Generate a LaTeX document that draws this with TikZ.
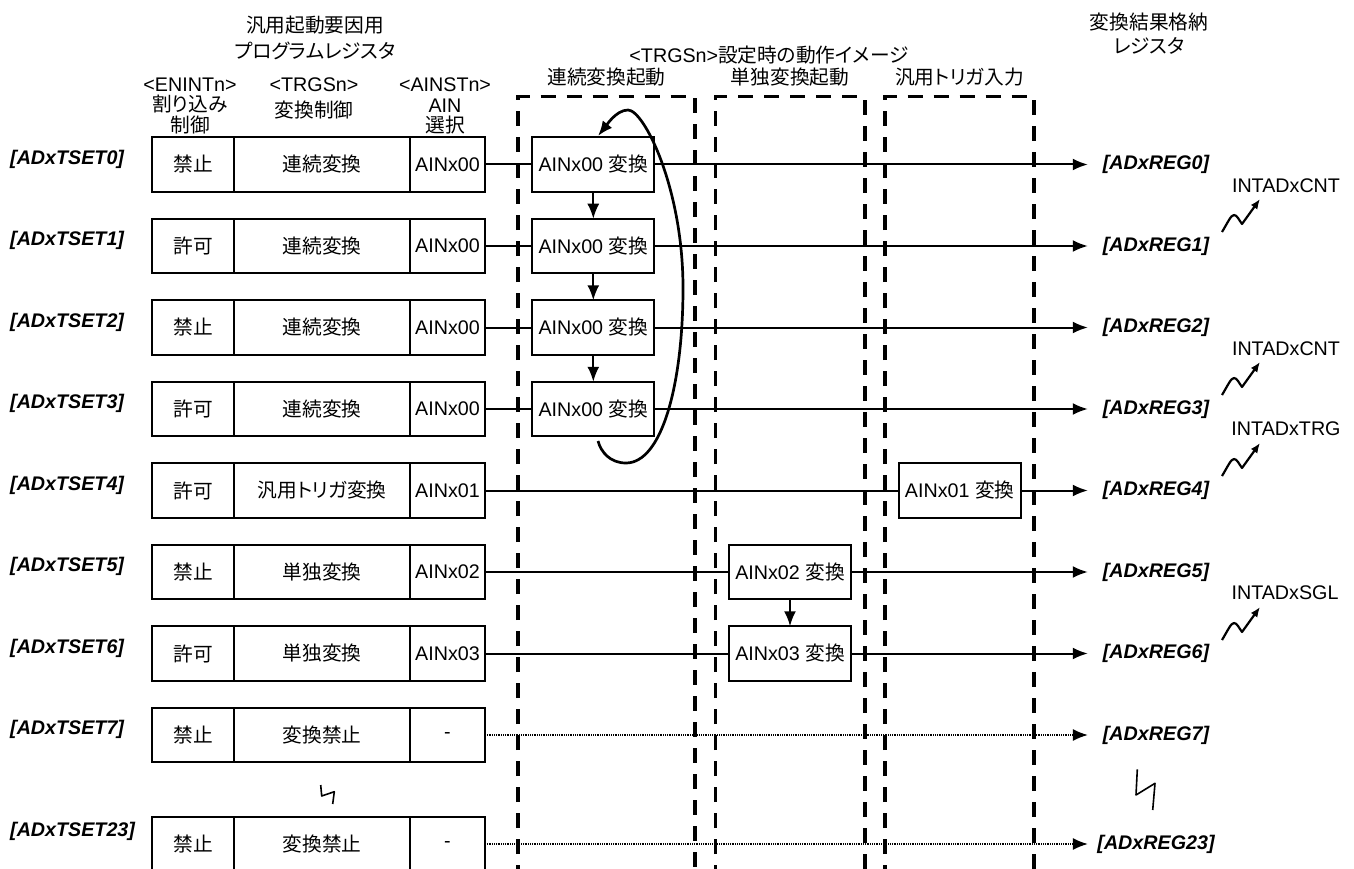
\documentclass[tikz,border=0pt]{standalone}
\usepackage{fontspec}
\setmainfont{Liberation Sans}
\newfontfamily\jp[RawFeature=+palt]{Noto Sans CJK JP}
\usetikzlibrary{arrows.meta,positioning}
\tikzset{
  >={Latex[length=15pt,width=12pt]},
  reg/.style={draw, line width=2pt, minimum height=54.5pt, inner sep=0pt, outer sep=0pt},
  ena/.style={reg, minimum width=82pt},
  trgs/.style={reg, minimum width=176pt},
  ains/.style={reg, minimum width=75pt},
  conv/.style={draw, line width=1.7pt, minimum width=122pt, minimum height=54.5pt, inner sep=0pt, outer sep=0pt, fill=white},
  sig/.style={line width=2pt},
  dotsig/.style={line width=1.3pt, dash pattern=on 1pt off 0.8pt},
  dashbox/.style={line width=3.3pt, dash pattern=on 15pt off 11pt},
  tset/.style={anchor=west, inner sep=0pt, font=\bfseries\itshape},
  result/.style={minimum width=136pt, inner sep=0pt, font=\bfseries\itshape},
  squig/.style={line width=2.2pt, line join=round, -{Latex[length=10pt,width=8pt]}},
  brk/.style={line width=1.6pt, line join=round}
}

\begin{document}
\fontsize{19.7}{20}\selectfont
\begin{tikzpicture}[x=1pt,y=-1pt]
	\useasboundingbox (0,0) rectangle (1354,869);
	% headers
	\node (hprog) at (315,37.5) [align=center, font=\jp\fontsize{19.7}{26}\selectfont] {汎用起動要因用\\プログラムレジスタ};
	\node (hena) at (190,106) [align=center, font=\fontsize{19.7}{20.5}\selectfont] {<ENINTn>\\{\jp 割り込み}\\{\jp 制御}};
	\node (htrg) at (314,98) [align=center, font=\fontsize{19.7}{26}\selectfont] {<TRGSn>\\{\jp 変換制御}};
	\node (hain) at (445,106) [align=center, font=\fontsize{19.7}{20.5}\selectfont] {<AINSTn>\\AIN\\{\jp 選択}};
	\node (himg) at (769,55) {<TRGSn>{\jp 設定時の動作イメージ}};
	\node (hcont) at (606.5,77) {\jp 連続変換起動};
	\node (hsgl) at (790,77) {\jp 単独変換起動};
	\node (hgen) at (959.5,77) {\jp 汎用トリガ入力};
	\node (hres) at (1149,33.5) [align=center, font=\jp\fontsize{19.7}{23.5}\selectfont] {変換結果格納\\レジスタ};
	% dashed frames
	\draw[dashbox] (518,880) -- (518,96.7) -- (695,96.7) -- (695,880);
	\draw[dashbox] (715.7,880) -- (715.7,96.7) -- (865,96.7) -- (865,880);
	\draw[dashbox] (885,880) -- (885,96.7) -- (1034,96.7) -- (1034,880);
	% row 0
	\node (l0) at (10,159) [tset] {[ADxTSET0]};
	\node (e0) at (193,164.5) [ena] {\jp 禁止};
	\node (t0) [trgs, right=0pt of e0] {\jp 連続変換};
	\node (a0) [ains, right=0pt of t0] {AINx00};
	\node (c0) at (593.3,164.5) [conv] {AINx00 {\jp 変換}};
	\node (r0) at (1156,164.5) [result] {[ADxREG0]};
	\draw[sig] (a0) -- (c0);
	\draw[sig, arrows=->] (c0) -- (r0);
	% row 1
	\node (l1) at (10,240.5) [tset] {[ADxTSET1]};
	\node (e1) at (193,246) [ena] {\jp 許可};
	\node (t1) [trgs, right=0pt of e1] {\jp 連続変換};
	\node (a1) [ains, right=0pt of t1] {AINx00};
	\node (c1) at (593.3,246) [conv] {AINx00 {\jp 変換}};
	\node (r1) at (1156,246) [result] {[ADxREG1]};
	\draw[sig] (a1) -- (c1);
	\draw[sig, arrows=->] (c1) -- (r1);
	% row 2
	\node (l2) at (10,322) [tset] {[ADxTSET2]};
	\node (e2) at (193,327.5) [ena] {\jp 禁止};
	\node (t2) [trgs, right=0pt of e2] {\jp 連続変換};
	\node (a2) [ains, right=0pt of t2] {AINx00};
	\node (c2) at (593.3,327.5) [conv] {AINx00 {\jp 変換}};
	\node (r2) at (1156,327.5) [result] {[ADxREG2]};
	\draw[sig] (a2) -- (c2);
	\draw[sig, arrows=->] (c2) -- (r2);
	% row 3
	\node (l3) at (10,403.5) [tset] {[ADxTSET3]};
	\node (e3) at (193,409) [ena] {\jp 許可};
	\node (t3) [trgs, right=0pt of e3] {\jp 連続変換};
	\node (a3) [ains, right=0pt of t3] {AINx00};
	\node (c3) at (593.3,409) [conv] {AINx00 {\jp 変換}};
	\node (r3) at (1156,409) [result] {[ADxREG3]};
	\draw[sig] (a3) -- (c3);
	\draw[sig, arrows=->] (c3) -- (r3);
	% row 4
	\node (l4) at (10,485) [tset] {[ADxTSET4]};
	\node (e4) at (193,490.5) [ena] {\jp 許可};
	\node (t4) [trgs, right=0pt of e4] {\jp 汎用トリガ変換};
	\node (a4) [ains, right=0pt of t4] {AINx01};
	\node (c4) at (959.7,490.5) [conv] {AINx01 {\jp 変換}};
	\node (r4) at (1156,490.5) [result] {[ADxREG4]};
	\draw[sig] (a4) -- (c4);
	\draw[sig, arrows=->] (c4) -- (r4);
	% row 5
	\node (l5) at (10,566.5) [tset] {[ADxTSET5]};
	\node (e5) at (193,572) [ena] {\jp 禁止};
	\node (t5) [trgs, right=0pt of e5] {\jp 単独変換};
	\node (a5) [ains, right=0pt of t5] {AINx02};
	\node (c5) at (790,572) [conv] {AINx02 {\jp 変換}};
	\node (r5) at (1156,572) [result] {[ADxREG5]};
	\draw[sig] (a5) -- (c5);
	\draw[sig, arrows=->] (c5) -- (r5);
	% row 6
	\node (l6) at (10,648) [tset] {[ADxTSET6]};
	\node (e6) at (193,653.5) [ena] {\jp 許可};
	\node (t6) [trgs, right=0pt of e6] {\jp 単独変換};
	\node (a6) [ains, right=0pt of t6] {AINx03};
	\node (c6) at (790,653.5) [conv] {AINx03 {\jp 変換}};
	\node (r6) at (1156,653.5) [result] {[ADxREG6]};
	\draw[sig] (a6) -- (c6);
	\draw[sig, arrows=->] (c6) -- (r6);
	% row 7
	\node (l7) at (10,729.5) [tset] {[ADxTSET7]};
	\node (e7) at (193,735) [ena] {\jp 禁止};
	\node (t7) [trgs, right=0pt of e7] {\jp 変換禁止};
	\node (a7) [ains, right=0pt of t7] {-};
	\node (r7) at (1156,735) [result] {[ADxREG7]};
	\draw[dotsig, arrows=->] (a7) -- (r7);
	% row 23
	\node (l23) at (10,831) [tset] {[ADxTSET23]};
	\node (e23) at (193,844) [ena] {\jp 禁止};
	\node (t23) [trgs, right=0pt of e23] {\jp 変換禁止};
	\node (a23) [ains, right=0pt of t23] {-};
	\node (r23) at (1156,844) [result] {[ADxREG23]};
	\draw[dotsig, arrows=->] (a23) -- (r23);
	% conversion order
	\draw[sig, arrows=->] (c0) -- (c1);
	\draw[sig, arrows=->] (c1) -- (c2);
	\draw[sig, arrows=->] (c2) -- (c3);
	\draw[sig, arrows=->] (c5) -- (c6);
	\coordinate (loopS) at (598,441);
	\coordinate (loopE) at (598,136);
	\draw[line width=2.7pt, arrows=->] (loopS) .. controls (601,452) and (610,463) .. (626,463)
		.. controls (662,463) and (683,384) .. (683,288)
		.. controls (683,188) and (644,110) .. (628,110)
		.. controls (616,110) and (606,126) .. (loopE);
	% breaks
	\draw[brk] (320.7,785) -- (321.7,796) -- (334.3,791.7) -- (332.7,804);
	\draw[brk] (1137.3,769.3) -- (1136,795) -- (1155,783.3) -- (1152.7,810);
	% interrupts
	\node (int0) at (1286,186) {INTADxCNT};
	\node (int1) at (1286,348.5) {INTADxCNT};
	\node (int2) at (1286,429) {INTADxTRG};
	\node (int3) at (1285,593) {INTADxSGL};
	\coordinate (s0) at (1222,232); \coordinate (p0) at (1260,199);
	\coordinate (s1) at (1222,395); \coordinate (p1) at (1260,362);
	\coordinate (s2) at (1222,476); \coordinate (p2) at (1260,443);
	\coordinate (s3) at (1222,640); \coordinate (p3) at (1260,607);
	\draw[squig] (s0) .. controls (1228,222) and (1231,215) .. (1234,215) .. controls (1237,215) and (1239,220) .. (1242,224) -- (p0);
	\draw[squig] (s1) .. controls (1228,385) and (1231,378) .. (1234,378) .. controls (1237,378) and (1239,383) .. (1242,387) -- (p1);
	\draw[squig] (s2) .. controls (1228,466) and (1231,459) .. (1234,459) .. controls (1237,459) and (1239,464) .. (1242,468) -- (p2);
	\draw[squig] (s3) .. controls (1228,630) and (1231,623) .. (1234,623) .. controls (1237,623) and (1239,628) .. (1242,632) -- (p3);
\end{tikzpicture}
\end{document}
